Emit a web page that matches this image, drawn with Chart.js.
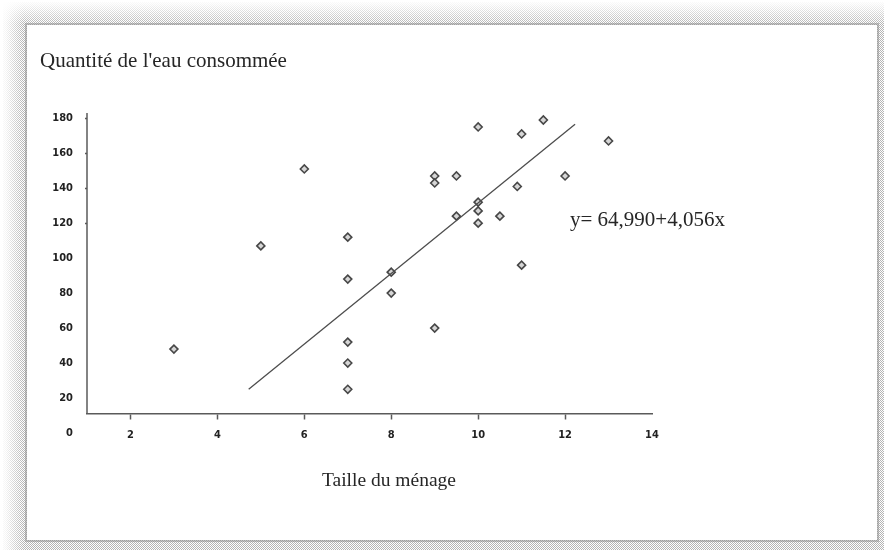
<!DOCTYPE html>
<html>
<head>
<meta charset="utf-8">
<title>Quantité de l'eau consommée</title>
<script src="https://cdn.jsdelivr.net/npm/chart.js@4.4.1/dist/chart.umd.min.js"></script>
<style>
  html, body { margin: 0; padding: 0; background: #fff; }
  #page { position: relative; width: 884px; height: 550px; overflow: hidden; background: #fff; }
  /* dotted shadow frame around the white sheet */
  #dither { position: absolute; left: 3px; top: 2px; width: 881px; height: 548px;
    background: repeating-conic-gradient(#b4b4b4 0 25%, #ffffff 0 50%) 0 0 / 2px 2px; }
  #fadeL { position: absolute; left: 0; top: 0; width: 24px; height: 550px;
    background: linear-gradient(to right, #fff 0, rgba(255,255,255,0.85) 6px, rgba(255,255,255,0) 24px); }
  #fadeT { position: absolute; left: 0; top: 0; width: 884px; height: 24px;
    background: linear-gradient(to bottom, #fff 0, rgba(255,255,255,0.85) 5px, rgba(255,255,255,0) 24px); }
  #sheet { position: absolute; left: 27px; top: 25px; width: 850px; height: 515px; background: #fff;
    box-shadow: 0 0 0 2px rgba(140,140,140,0.5); }
  .txt { position: absolute; font-family: 'Liberation Serif', 'Times New Roman', serif; color: #262626;
    white-space: nowrap; line-height: 1; }
  #title { left: 40px; top: 50px; font-size: 21px; }
  #xTitle { left: 322px; top: 470px; font-size: 19.5px; }
  #equation { left: 570px; top: 209px; font-size: 21px; }
  #c { position: absolute; left: 0; top: 0; }
</style>
</head>
<body>
<div id="page">
  <div id="dither"></div>
  <div id="fadeL"></div>
  <div id="fadeT"></div>
  <div id="sheet"></div>
  <canvas id="c" width="884" height="550"></canvas>
  <div class="txt" id="title">Quantité de l'eau consommée</div>
  <div class="txt" id="xTitle">Taille du ménage</div>
  <div class="txt" id="equation">y= 64,990+4,056x</div>
</div>
<script>
// Household size (x) and water consumed (y) for each surveyed household
const householdSize = [3, 5, 6, 7, 7, 7, 7, 7, 8, 8, 9, 9, 9, 9.5, 9.5, 10, 10, 10, 10, 10.5, 10.9, 11, 11, 11.5, 12, 13];
const waterUsed     = [48, 107, 151, 112, 88, 52, 40, 25, 92, 80, 147, 143, 60, 147, 124, 175, 132, 127, 120, 124, 141, 171, 96, 179, 147, 167];

// End points of the fitted line
const trendX = [4.72, 12.23];
const trendY = [25, 176.5];

// Axis ticks
const xTicks = [2, 4, 6, 8, 10, 12, 14];
const yTicks = [0, 20, 40, 60, 80, 100, 120, 140, 160, 180];

// The horizontal axis crosses the vertical one at this value
const xAxisAt = 11;

const points = householdSize.map((x, i) => ({ x: x, y: waterUsed[i] }));
const trend = trendX.map((x, i) => ({ x: x, y: trendY[i] }));

const axisColor = '#5a5a5a';
const tickFont = { family: "'Liberation Sans Narrow', 'Arial Narrow', 'DejaVu Sans Condensed', sans-serif", size: 11, weight: 'bold' };

// Vertical axis line stops where the horizontal axis crosses it
const yAxisLine = {
  id: 'yAxisLine',
  afterDraw(chart) {
    const ctx = chart.ctx;
    const ys = chart.scales.y;
    const x = chart.chartArea.left;
    ctx.save();
    ctx.strokeStyle = axisColor;
    ctx.lineWidth = 1.5;
    ctx.beginPath();
    ctx.moveTo(x, chart.chartArea.top);
    ctx.lineTo(x, ys.getPixelForValue(xAxisAt));
    ctx.stroke();
    ctx.restore();
  }
};

new Chart(document.getElementById('c'), {
  type: 'scatter',
  data: {
    datasets: [
      {
        label: 'Droite de régression',
        data: trend,
        showLine: true,
        borderColor: '#4d4d4d',
        borderWidth: 1.3,
        pointRadius: 0,
        fill: false
      },
      {
        label: 'Ménages',
        data: points,
        pointStyle: 'rectRot',
        pointRadius: 4,
        borderColor: '#474747',
        borderWidth: 1.6,
        backgroundColor: '#d6d6d6'
      }
    ]
  },
  options: {
    responsive: false,
    devicePixelRatio: 1,
    animation: false,
    layout: { padding: { left: 27, top: 113, right: 232, bottom: 117 } },
    plugins: { legend: { display: false }, tooltip: { enabled: false }, title: { display: false } },
    scales: {
      x: {
        type: 'linear',
        min: 1,
        max: 14,
        position: { y: xAxisAt },
        afterBuildTicks: s => { s.ticks = xTicks.map(v => ({ value: v })); },
        border: { display: true, color: axisColor, width: 1.5 },
        grid: {
          drawOnChartArea: false,
          drawTicks: true,
          tickLength: 5,
          tickWidth: 1.5,
          tickColor: c => (c.tick && c.tick.value < 14) ? axisColor : 'rgba(0,0,0,0)'
        },
        ticks: { padding: 10, color: '#222', font: tickFont, maxRotation: 0 }
      },
      y: {
        type: 'linear',
        min: 0,
        max: 183,
        position: 'left',
        afterBuildTicks: s => { s.ticks = yTicks.map(v => ({ value: v })); },
        afterFit: s => { s.width = 60; },
        border: { display: false },
        grid: {
          drawOnChartArea: false,
          drawTicks: true,
          tickLength: 8,
          tickWidth: 1.5,
          tickBorderDash: [2, 6],
          tickBorderDashOffset: 2,
          tickColor: c => (c.tick && c.tick.value >= 120) ? axisColor : 'rgba(0,0,0,0)'
        },
        ticks: { padding: 6, color: '#222', font: tickFont }
      }
    }
  },
  plugins: [yAxisLine]
});
</script>
</body>
</html>
